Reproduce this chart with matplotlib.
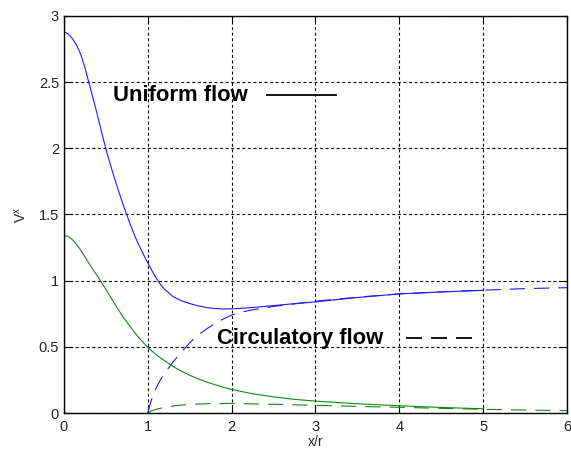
import numpy as np
import matplotlib.pyplot as plt

plt.rcParams['font.family'] = ['Liberation Sans', 'DejaVu Sans']
plt.rcParams['lines.scale_dashes'] = False

# total velocity (blue, solid)
x_tot = [0.00, 0.05, 0.10, 0.15, 0.20, 0.25, 0.30, 0.35, 0.40, 0.45, 0.50,
         0.55, 0.60, 0.65, 0.70, 0.75, 0.80, 0.85, 0.90, 0.95, 1.00, 1.05,
         1.10, 1.15, 1.20, 1.30, 1.40, 1.50, 1.60, 1.70, 1.80, 1.90, 2.00,
         2.25, 2.50, 2.75, 3.00, 3.50, 4.00, 4.50, 5.00]
v_tot = [2.88, 2.865, 2.83, 2.78, 2.71, 2.61, 2.49, 2.37, 2.25, 2.12, 1.995,
         1.885, 1.78, 1.68, 1.585, 1.495, 1.41, 1.33, 1.26, 1.195, 1.135, 1.075,
         1.02, 0.972, 0.935, 0.88, 0.848, 0.827, 0.81, 0.797, 0.789, 0.786, 0.787,
         0.797, 0.812, 0.826, 0.84, 0.873, 0.90, 0.915, 0.927]

# circulatory part (blue, dashed)
x_circ = [1.00, 1.02, 1.05, 1.10, 1.15, 1.20, 1.30, 1.40, 1.50, 1.60, 1.70,
          1.80, 1.90, 2.00, 2.10, 2.25, 2.50, 2.75, 3.00, 3.50, 4.00, 4.50,
          5.00, 5.50, 6.00]
v_circ = [0, 0.05, 0.11, 0.19, 0.25, 0.30, 0.385, 0.46, 0.53, 0.59, 0.635,
          0.675, 0.71, 0.74, 0.76, 0.78, 0.805, 0.825, 0.845, 0.875, 0.90,
          0.915, 0.928, 0.94, 0.947]

# green pair
x_g = [0.00, 0.05, 0.10, 0.15, 0.20, 0.25, 0.30, 0.35, 0.40, 0.45, 0.50,
       0.55, 0.60, 0.65, 0.70, 0.75, 0.80, 0.85, 0.90, 0.95, 1.00, 1.10,
       1.20, 1.30, 1.40, 1.50, 1.60, 1.70, 1.80, 1.90, 2.00, 2.25, 2.50,
       2.75, 3.00, 3.50, 4.00, 4.50, 5.00]
v_g = [1.34, 1.335, 1.31, 1.275, 1.23, 1.18, 1.13, 1.08, 1.035, 0.985, 0.935,
       0.882, 0.83, 0.78, 0.73, 0.686, 0.645, 0.603, 0.565, 0.53, 0.497, 0.44,
       0.395, 0.352, 0.316, 0.285, 0.259, 0.235, 0.214, 0.195, 0.178, 0.145,
       0.122, 0.103, 0.09, 0.07, 0.055, 0.042, 0.032]
x_gc = [1.00, 1.05, 1.10, 1.20, 1.30, 1.40, 1.50, 1.75, 2.00, 2.50, 3.00,
        3.50, 4.00, 4.50, 5.00, 5.50, 6.00]
v_gc = [0, 0.018, 0.028, 0.043, 0.053, 0.06, 0.065, 0.071, 0.072, 0.066,
        0.058, 0.05, 0.043, 0.035, 0.028, 0.022, 0.018]

fig = plt.figure(figsize=(5.71, 4.54), dpi=100)
ax = fig.add_axes([0.112, 0.0903, 0.881, 0.8745])

blue = '#1a1aff'
green = '#118811'
dash = (11, 6.5)
ax.plot(x_tot, v_tot, color=blue, lw=0.8)
ax.plot(x_circ, v_circ, color=blue, lw=0.8, dashes=dash)
ax.plot(x_g, v_g, color=green, lw=0.8)
ax.plot(x_gc, v_gc, color=green, lw=0.8, dashes=dash)

# legend-like annotations
ax.text(0.58, 2.40, 'Uniform flow', fontsize=15.8, fontweight='bold', va='center')
ax.plot([2.42, 3.24], [2.40, 2.40], color='k', lw=1.3)
ax.text(1.82, 0.565, 'Circulatory flow', fontsize=15.8, fontweight='bold', va='center')
ax.plot([4.08, 4.87], [0.57, 0.57], color='k', lw=1.3, dashes=(11.5, 6.5))

ax.set_xlim(0, 6)
ax.set_ylim(0, 3)
ax.set_xticks(range(7))
ax.set_yticks([0, 0.5, 1, 1.5, 2, 2.5, 3])
ax.set_yticklabels(['0', '0.5', '1', '1.5', '2', '2.5', '3'])
ax.grid(True, color='k', lw=0.8, linestyle=(0, (2.2, 1.8)))
ax.tick_params(direction='in', top=True, right=True, labelsize=10.5, length=4,
               colors='k', labelcolor='#222222')
ax.tick_params(axis='x', pad=5)
for s in ax.spines.values():
    s.set_linewidth(1)

ax.set_xlabel('x/r', fontsize=10, labelpad=1, color='#222222')
ax.set_ylabel('V$^\\mathregular{x}$', fontsize=10, labelpad=7, color='#222222')

fig.savefig('out.png', dpi=100)
